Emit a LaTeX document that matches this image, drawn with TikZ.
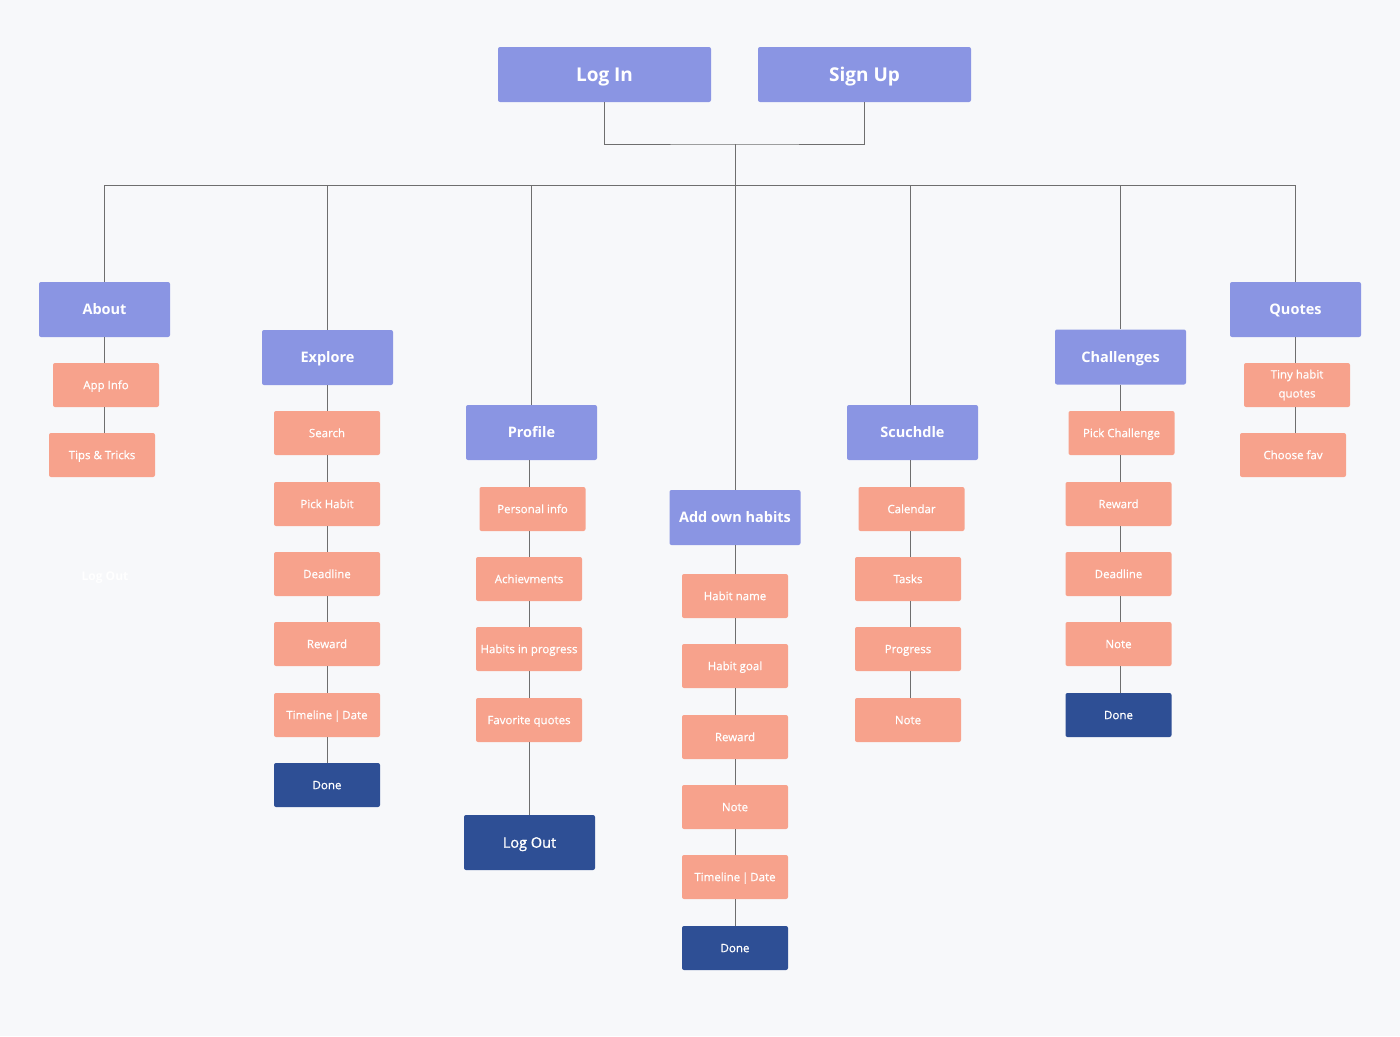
\documentclass[tikz,border=0pt]{standalone}
\usepackage{fontspec}
\setmainfont{Open Sans}
\newfontfamily\semib{Open Sans}[FakeBold=0.7]
\newfontfamily\medb{Open Sans}[FakeBold=1.2]
\definecolor{bg}{HTML}{F7F8FA}
\definecolor{purp}{HTML}{8A95E3}
\definecolor{salm}{HTML}{F7A28C}
\definecolor{navy}{HTML}{2E4F95}
\definecolor{ln}{HTML}{6E6E6E}
\tikzset{
 box/.style={rectangle, rounded corners=2pt, text=white, inner sep=0pt, align=center},
 topbox/.style={box, fill=purp, minimum width=213pt, minimum height=55pt, font=\fontsize{19}{22}\selectfont\bfseries, text height=13.7pt, text depth=0pt},
 head/.style={box, fill=purp, minimum width=131pt, minimum height=55pt, font=\fontsize{14.5}{17}\selectfont\bfseries, text height=10.4pt, text depth=0pt},
 item/.style={box, fill=salm, minimum width=106pt, minimum height=44pt, font=\fontsize{11.5}{19}\semib, text height=8.3pt, text depth=0pt},
 done/.style={box, fill=navy, minimum width=106pt, minimum height=44pt, font=\fontsize{11.5}{14}\semib, text height=8.3pt, text depth=0pt},
 conn/.style={draw=ln, line width=0.9pt},
}
\begin{document}
\begin{tikzpicture}[x=1pt,y=-1pt]
\fill[bg] (0,0) rectangle (1400,1036);
\useasboundingbox (0,0) rectangle (1400,1036);
% top
\node[topbox] (login) at (604.5,74.5) {Log In};
\node[topbox] (signup) at (864.5,74.5) {Sign Up};
\coordinate (join) at (735,144);
\coordinate (bus) at (735,185);
\coordinate (busL) at (105,185);
\coordinate (busR) at (1296,185);
% About
\node[head] (about) at (104.5,309.5) {About};
\node[item] (appinfo) at (106,385) {App Info};
\node[item] (tips) at (102,455) {Tips \& Tricks};
\node[text=white, font=\fontsize{12}{14}\selectfont\bfseries] (ghost) at (105,578) {Log Out};
% Explore
\node[head] (explore) at (327.5,357.5) {Explore};
\node[item] (search) at (327,433) {Search};
\node[item] (pick) at (327,504) {Pick Habit};
\node[item] (edead) at (327,574) {Deadline};
\node[item] (erew) at (327,644) {Reward};
\node[item] (etime) at (327,715) {Timeline\,|\,Date};
\node[done] (edone) at (327,785) {Done};
% Profile
\node[head] (profile) at (531.5,432.5) {Profile};
\node[item] (pinfo) at (532.5,509) {Personal info};
\node[item] (ach) at (529,579) {Achievments};
\node[item] (hip) at (529,649) {Habits in progress};
\node[item] (fav) at (529,720) {Favorite quotes};
\node[head, fill=navy, font=\fontsize{14.5}{17}\medb] (logout) at (529.5,842.5) {Log Out};
% Add own habits
\node[head] (add) at (735,517.5) {Add own habits};
\node[item] (hname) at (735,596) {Habit name};
\node[item] (hgoal) at (735,666) {Habit goal};
\node[item] (arew) at (735,737) {Reward};
\node[item] (anote) at (735,807) {Note};
\node[item] (atime) at (735,877) {Timeline\,|\,Date};
\node[done] (adone) at (735,948) {Done};
% Scuchdle
\node[head] (sched) at (912.5,432.5) {Scuchdle};
\node[item] (cal) at (911.5,509) {Calendar};
\node[item] (tasks) at (908,579) {Tasks};
\node[item] (prog) at (908,649) {Progress};
\node[item] (snote) at (908,720) {Note};
\coordinate (schx) at (910,185);
% Challenges
\node[head] (chal) at (1120.5,357) {Challenges};
\node[item] (pchal) at (1121.5,433) {Pick Challenge};
\node[item] (crew) at (1118.5,504) {Reward};
\node[item] (cdead) at (1118.5,574) {Deadline};
\node[item] (cnote) at (1118.5,644) {Note};
\node[done] (cdone) at (1118.5,715) {Done};
% Quotes
\node[head] (quotes) at (1295.5,309.5) {Quotes};
\node[item, text height={}, text depth={}] (tiny) at (1297,385) {Tiny habit\\quotes};
\node[item] (choose) at (1293,455) {Choose fav};
% connectors
\draw[conn] (login.south) |- (join) -| (signup.south);
\draw[conn] (join) -- (bus);
\draw[conn] (busL) -- (busR);
\foreach \h in {about,explore,profile,chal,quotes}{
  \draw[conn] (\h.north |- bus) -- (\h.north);
}
\draw[conn] (schx) -- (schx |- sched.north);
\draw[conn] (bus) -- (bus |- add.north);
% chains
\draw[conn] (about.south) -- (about.south |- appinfo.north);
\draw[conn] (about.south |- appinfo.south) -- (about.south |- tips.north);
\foreach \a/\b in {explore/search,search/pick,pick/edead,edead/erew,erew/etime,etime/edone}{
  \draw[conn] (explore.south |- \a.south) -- (explore.south |- \b.north);
}
\foreach \a/\b in {profile/pinfo,pinfo/ach,ach/hip,hip/fav,fav/logout}{
  \draw[conn] (logout.north |- \a.south) -- (logout.north |- \b.north);
}
\foreach \a/\b in {add/hname,hname/hgoal,hgoal/arew,arew/anote,anote/atime,atime/adone}{
  \draw[conn] (add.south |- \a.south) -- (add.south |- \b.north);
}
\foreach \a/\b in {sched/cal,cal/tasks,tasks/prog,prog/snote}{
  \draw[conn] (schx |- \a.south) -- (schx |- \b.north);
}
\foreach \a/\b in {chal/pchal,pchal/crew,crew/cdead,cdead/cnote,cnote/cdone}{
  \draw[conn] (chal.south |- \a.south) -- (chal.south |- \b.north);
}
\foreach \a/\b in {quotes/tiny,tiny/choose}{
  \draw[conn] (quotes.south |- \a.south) -- (quotes.south |- \b.north);
}
\end{tikzpicture}
\end{document}
